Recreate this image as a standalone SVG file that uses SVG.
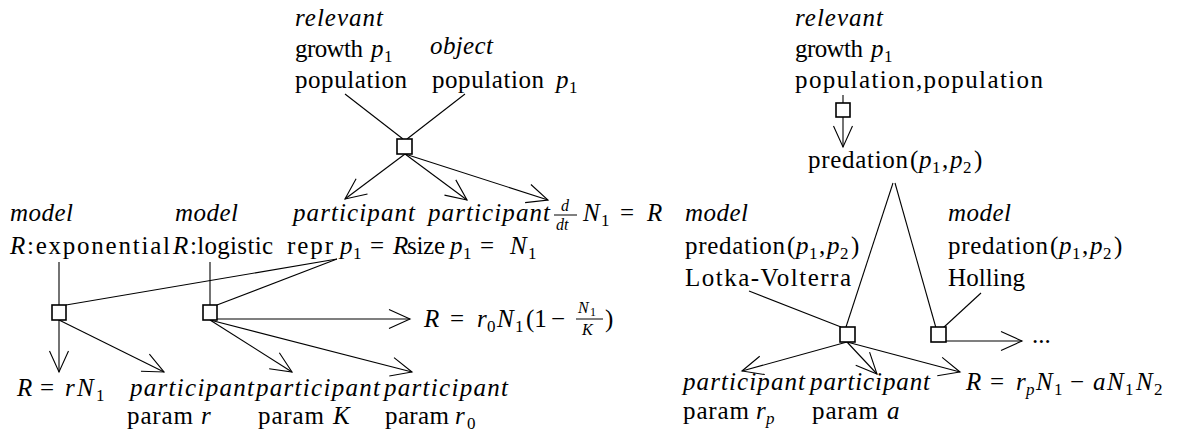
<svg xmlns="http://www.w3.org/2000/svg" width="1199" height="439" viewBox="0 0 1199 439">
<style>
text{font-family:"Liberation Serif","DejaVu Serif",serif;font-size:25px;fill:#000}
.i{font-style:italic}
.s{font-size:17px;font-style:normal}
.si{font-size:17px;font-style:italic}
.f{font-size:16px;font-style:italic}
.box{fill:#fff;stroke:#000;stroke-width:1.6}
.ln{stroke:#000;stroke-width:1.1;fill:none}
.ar{marker-end:url(#ah)}
</style>
<defs>
<marker id="ah" markerUnits="userSpaceOnUse" markerWidth="30" markerHeight="30" viewBox="-25 -12 30 24" refX="0" refY="0" orient="auto">
<path d="M-21,-9.5 L0,0 L-21,9.5" fill="none" stroke="#000" stroke-width="1.1"/>
</marker>
</defs>
<rect width="1199" height="439" fill="#fff"/>
<g font-family="'Liberation Serif', 'DejaVu Serif', serif">

<g id="connectors">
<line class="ln" x1="345" y1="94" x2="403" y2="139"/>
<line class="ln" x1="465" y1="94" x2="407" y2="139"/>
<line class="ln ar" x1="405" y1="154" x2="345" y2="199"/>
<line class="ln ar" x1="405" y1="154" x2="467" y2="200"/>
<line class="ln ar" x1="405" y1="154" x2="548" y2="200"/>
<line class="ln" x1="59" y1="262" x2="59" y2="305"/>
<line class="ln" x1="210" y1="262" x2="210" y2="305"/>
<line class="ln" x1="337" y1="259" x2="66" y2="305"/>
<line class="ln" x1="337" y1="259" x2="217" y2="305"/>
<line class="ln ar" x1="59" y1="320" x2="59" y2="372"/>
<line class="ln ar" x1="59" y1="320" x2="164" y2="372"/>
<line class="ln ar" x1="210" y1="320" x2="292" y2="372"/>
<line class="ln ar" x1="210" y1="320" x2="412" y2="372"/>
<line class="ln ar" x1="217" y1="319" x2="410" y2="319"/>
<line class="ln" x1="843" y1="95" x2="843" y2="103"/>
<line class="ln ar" x1="843" y1="117" x2="843" y2="147"/>
<line class="ln" x1="893" y1="183" x2="846" y2="327"/>
<line class="ln" x1="895" y1="183" x2="936" y2="328"/>
<line class="ln" x1="749" y1="291" x2="841" y2="327"/>
<line class="ln" x1="981" y1="293" x2="943" y2="328"/>
<line class="ln ar" x1="946" y1="341" x2="1022" y2="341"/>
<line class="ln ar" x1="847" y1="342" x2="742" y2="371"/>
<line class="ln ar" x1="847" y1="342" x2="877" y2="374"/>
<line class="ln ar" x1="847" y1="342" x2="960" y2="372"/>
</g>

<g id="node-relevant-growth">
<text x="295" y="26" class="i" textLength="88">relevant</text>
<text x="295" y="57" textLength="68">growth</text>
<text x="371" y="57" class="i">p</text><text x="384" y="62" class="s">1</text>
<text x="295" y="88" textLength="112">population</text>
</g>
<g id="node-object-population">
<text x="430" y="54" class="i" textLength="63">object</text>
<text x="432" y="88" textLength="112">population</text>
<text x="556" y="88" class="i">p</text><text x="569" y="93" class="s">1</text>
</g>
<g id="rel-top">
<rect class="box" x="397" y="139" width="15" height="15"/>
</g>
<g id="node-participant-repr">
<text x="293" y="221" class="i" textLength="122">participant</text>
<text x="287" y="254" textLength="46">repr</text>
<text x="340" y="254" class="i">p</text><text x="353" y="259" class="s">1</text>
<text x="370" y="254">=</text>
<text x="393" y="254" class="i">R</text>
</g>
<g id="node-participant-size">
<text x="428" y="221" class="i" textLength="122">participant</text>
<text x="407" y="254" textLength="38">size</text>
<text x="450" y="254" class="i">p</text><text x="463" y="259" class="s">1</text>
<text x="480" y="254">=</text>
<text x="510" y="254" class="i">N</text><text x="528" y="259" class="s">1</text>
</g>
<g id="node-ddt">
<text x="561" y="211" class="f">d</text>
<line x1="554" y1="215" x2="577" y2="215" stroke="#000" stroke-width="1"/>
<text x="556" y="230" class="f">dt</text>
<text x="583" y="221" class="i">N</text><text x="601" y="226" class="s">1</text>
<text x="620" y="221">=</text>
<text x="647" y="221" class="i">R</text>
</g>
<g id="node-model-exp">
<text x="10" y="221" class="i" textLength="63">model</text>
<text x="10" y="254" class="i">R</text><text x="27" y="254" textLength="143">:exponential</text>
</g>
<g id="node-model-log">
<text x="175" y="221" class="i" textLength="63">model</text>
<text x="173" y="254" class="i">R</text><text x="190" y="254" textLength="83">:logistic</text>
</g>
<g id="rel-exp">
<rect class="box" x="52" y="305" width="14" height="15"/>
</g>
<g id="rel-log">
<rect class="box" x="203" y="305" width="14" height="15"/>
</g>
<g id="node-logistic-eq">
<text x="424" y="327" class="i">R</text>
<text x="450" y="327">=</text>
<text x="477" y="327" class="i">r</text><text x="487" y="332" class="s">0</text>
<text x="497" y="327" class="i">N</text><text x="515" y="332" class="s">1</text>
<text x="526" y="327">(1</text>
<text x="551" y="327">−</text>
<text x="578" y="313" class="f">N</text><text x="590" y="316" style="font-size:12px">1</text>
<line x1="576" y1="319" x2="603" y2="319" stroke="#000" stroke-width="1"/>
<text x="582" y="335" class="f">K</text>
<text x="605" y="327">)</text>
</g>
<g id="node-exp-eq">
<text x="17" y="396" class="i">R</text>
<text x="40" y="396">=</text>
<text x="65" y="396" class="i">r</text>
<text x="77" y="396" class="i">N</text><text x="96" y="401" class="s">1</text>
</g>
<g id="node-param-r">
<text x="130" y="396" class="i" textLength="124">participant</text>
<text x="127" y="424" textLength="66">param</text>
<text x="201" y="424" class="i">r</text>
</g>
<g id="node-param-K">
<text x="256" y="396" class="i" textLength="124">participant</text>
<text x="258" y="424" textLength="66">param</text>
<text x="333" y="424" class="i">K</text>
</g>
<g id="node-param-r0">
<text x="384" y="396" class="i" textLength="124">participant</text>
<text x="385" y="424" textLength="64">param</text>
<text x="455" y="424" class="i">r</text><text x="467" y="429" class="s">0</text>
</g>

<g id="node-relevant-growth-2">
<text x="795" y="26" class="i" textLength="88">relevant</text>
<text x="795" y="57" textLength="68">growth</text>
<text x="871" y="57" class="i">p</text><text x="884" y="62" class="s">1</text>
<text x="795" y="88" textLength="248">population,population</text>
</g>
<g id="rel-pred">
<rect class="box" x="836" y="103" width="14" height="14"/>
</g>
<g id="node-predation">
<text x="808" y="168" textLength="100">predation</text>
<text x="910" y="168">(</text>
<text x="919" y="168" class="i">p</text><text x="932" y="173" class="s">1</text>
<text x="942" y="168">,</text>
<text x="950" y="168" class="i">p</text><text x="963" y="173" class="s">2</text>
<text x="974" y="168">)</text>
</g>
<g id="node-model-lv">
<text x="685" y="221" class="i" textLength="63">model</text>
<text x="685" y="254" textLength="100">predation</text>
<text x="787" y="254">(</text>
<text x="796" y="254" class="i">p</text><text x="809" y="259" class="s">1</text>
<text x="819" y="254">,</text>
<text x="827" y="254" class="i">p</text><text x="840" y="259" class="s">2</text>
<text x="851" y="254">)</text>
<text x="685" y="286" textLength="166">Lotka-Volterra</text>
</g>
<g id="node-model-holling">
<text x="948" y="221" class="i" textLength="63">model</text>
<text x="948" y="254" textLength="100">predation</text>
<text x="1050" y="254">(</text>
<text x="1059" y="254" class="i">p</text><text x="1072" y="259" class="s">1</text>
<text x="1082" y="254">,</text>
<text x="1090" y="254" class="i">p</text><text x="1103" y="259" class="s">2</text>
<text x="1114" y="254">)</text>
<text x="948" y="286" textLength="77">Holling</text>
</g>
<g id="rel-lv">
<rect class="box" x="840" y="327" width="15" height="15"/>
</g>
<g id="rel-holling">
<rect class="box" x="931" y="327" width="15" height="15"/>
</g>
<g id="node-dots">
<text x="1032" y="343">...</text>
</g>
<g id="node-param-rp">
<text x="683" y="390" class="i" textLength="122">participant</text>
<text x="683" y="419" textLength="66">param</text>
<text x="756" y="419" class="i">r</text><text x="766" y="424" class="si">p</text>
</g>
<g id="node-param-a">
<text x="810" y="390" class="i" textLength="120">participant</text>
<text x="812" y="419" textLength="66">param</text>
<text x="887" y="419" class="i">a</text>
</g>
<g id="node-lv-eq">
<text x="966" y="390" class="i">R</text>
<text x="990" y="390">=</text>
<text x="1016" y="390" class="i">r</text><text x="1026" y="395" class="si">p</text>
<text x="1036" y="390" class="i">N</text><text x="1054" y="395" class="s">1</text>
<text x="1070" y="390">−</text>
<text x="1093" y="390" class="i">a</text>
<text x="1107" y="390" class="i">N</text><text x="1125" y="395" class="s">1</text>
<text x="1136" y="390" class="i">N</text><text x="1154" y="395" class="s">2</text>
</g>
</g>
</svg>
